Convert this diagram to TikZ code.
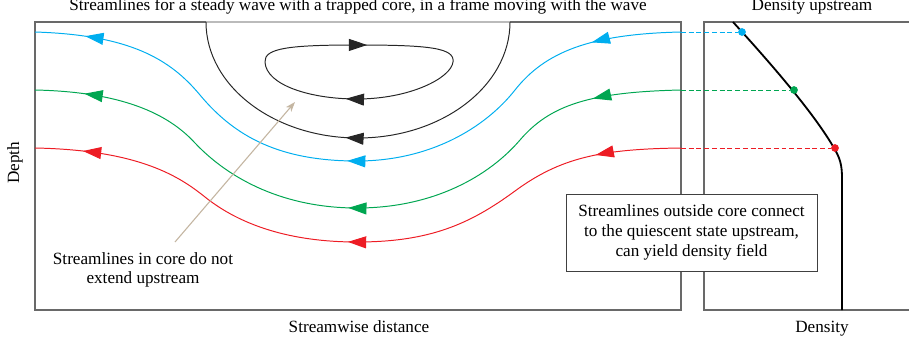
\documentclass[tikz,border=0pt]{standalone}
\usepackage{fontspec}
\setmainfont{Liberation Serif}
\usetikzlibrary{arrows.meta,decorations.markings}

\definecolor{flowblue}{RGB}{0,174,239}
\definecolor{flowgreen}{RGB}{0,166,81}
\definecolor{flowred}{RGB}{237,28,36}
\definecolor{pointertan}{RGB}{196,182,162}
\definecolor{framegray}{RGB}{105,105,105}

\tikzset{
  streamline/.style={line width=0.7pt, postaction={decorate},
    decoration={markings,
      mark=at position 0.125 with {\arrow{Triangle[length=13pt,width=8.5pt]}},
      mark=at position 0.515 with {\arrow{Triangle[length=13pt,width=8.5pt]}},
      mark=at position 0.93 with {\arrow{Triangle[length=13pt,width=8.5pt]}}}},
  coreline/.style={line width=0.7pt, black!85},
  framed/.style={framegray, line width=0.8pt},
  densdot/.style={circle, fill=#1, inner sep=0pt, minimum size=5.5pt},
  dashlink/.style={line width=0.7pt, dash pattern=on 3.5pt off 2pt},
  notebox/.style={draw=black!75, fill=white, line width=0.6pt, align=center,
    minimum width=6.275cm, minimum height=1.925cm, inner sep=0pt}
}

\begin{document}
\begin{tikzpicture}[x=0.025cm, y=-0.025cm, font=\fontsize{12.2}{14}\selectfont]
    \useasboundingbox (0,0) rectangle (909,343);

    % frames
    \draw[framed] (206,22) -- (35,22) -- (35,310) -- (681,310) -- (681,22) -- (510,22);
    \draw[framed, framegray!45] (206,22) -- (510,22);
    \draw[framed] (909,22) -- (704,22) -- (704,310) -- (909,310);

    % streamlines outside the core (drawn right to left)
    \draw[streamline, flowblue] (681,32) .. controls (590,34) and (545,52) .. (515,90)
        .. controls (485,128) and (430,161) .. (357,161)
        .. controls (280,161) and (235,137) .. (200,95)
        .. controls (170,59) and (130,35) .. (35,32);
    \draw[streamline, flowgreen] (681,90) .. controls (590,92) and (550,105) .. (520,140)
        .. controls (490,175) and (435,208) .. (357,208)
        .. controls (285,208) and (230,180) .. (195,143)
        .. controls (172,118) and (130,92) .. (35,90);
    \draw[streamline, flowred] (681,148) .. controls (600,149) and (560,158) .. (515,191)
        .. controls (470,224) and (430,242) .. (357,242)
        .. controls (290,242) and (240,225) .. (205,197)
        .. controls (180,177) and (140,150) .. (35,148);

    % trapped core
    \draw[coreline, postaction={decorate}, decoration={markings,
        mark=at position 0.53 with {\arrow{Triangle[length=13pt,width=8.5pt]}}}]
        (510,22) arc[start angle=0, end angle=180, x radius=152, y radius=116];
    \draw[coreline, postaction={decorate}, decoration={markings,
        mark=at position 0.262 with {\arrow{Triangle[length=13pt,width=8.5pt]}},
        mark=at position 0.772 with {\arrow{Triangle[length=13pt,width=8.5pt]}}}]
        (265,62) .. controls (264,48) and (290,45) .. (357,45)
        .. controls (430,45) and (455,48) .. (453,62)
        .. controls (451,78) and (410,99) .. (357,99)
        .. controls (310,99) and (266,85) .. (265,62) -- cycle;

    % density profile upstream
    \draw[line width=1.3pt] (733,22) .. controls (775,68) and (815,115) .. (834,148)
        .. controls (840,158) and (842,165) .. (842,178) -- (842,310);

    \coordinate (blue-in) at (681,32);
    \coordinate (green-in) at (681,90);
    \coordinate (red-in) at (681,148);
    \node[densdot=flowblue] (blue-pt) at (742,32) {};
    \node[densdot=flowgreen] (green-pt) at (794,90) {};
    \node[densdot=flowred] (red-pt) at (835,148) {};
    \begin{scope}[every edge/.style={draw, dashlink}]
        \path[flowblue] (blue-in) edge (blue-pt);
        \path[flowgreen] (green-in) edge (green-pt);
        \path[flowred] (red-in) edge (red-pt);
    \end{scope}

    % labels
    \node[anchor=base] (title) at (358,10.5) {Streamlines for a steady wave with a trapped core, in a frame moving with the wave};
    \node[anchor=base] (upstream) at (812,10.5) {Density upstream};
    \node[rotate=90] (depth) at (15,163) {Depth};
    \node[anchor=base] (xlabel) at (359,332) {Streamwise distance};
    \node[anchor=base] (dlabel) at (822,332) {Density};

    \node[align=center] (core-note) at (143,270) {Streamlines in core do not\\extend upstream};
    \coordinate (note-tail) at (175,242);
    \coordinate (note-head) at (295,102);
    \draw[pointertan, line width=0.8pt, -{Stealth[length=7pt,width=5pt,inset=2pt]}] (note-tail) -- (note-head);

    \node[notebox] (outside-note) at (691.5,232.5) {Streamlines outside core connect\\to the quiescent state upstream,\\can yield density field};
\end{tikzpicture}
\end{document}
